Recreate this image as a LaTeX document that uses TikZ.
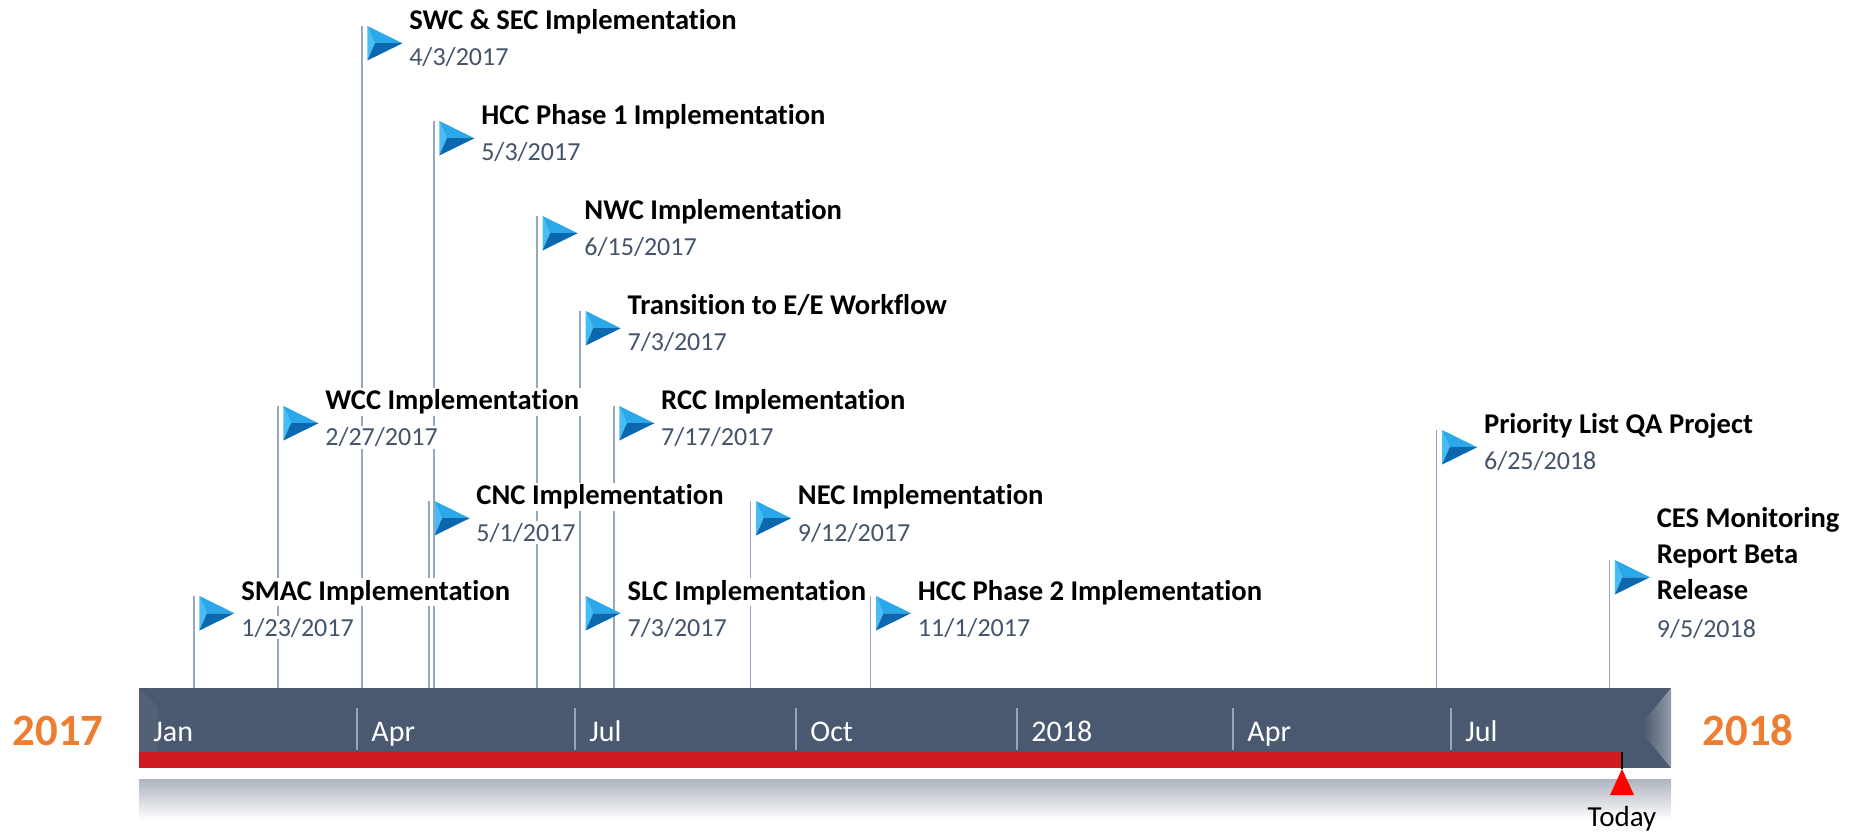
\documentclass[tikz,border=0pt]{standalone}
\usepackage{fontspec}
\setmainfont{Carlito}[Ligatures=NoCommon]
\pgfdeclarelayer{background}
\pgfsetlayers{background,main}
\definecolor{barslate}{HTML}{4A5970}
\definecolor{poleblue}{HTML}{94A8C4}
\definecolor{datecol}{HTML}{44546A}
\definecolor{yearorange}{HTML}{ED7D31}
\definecolor{bandred}{HTML}{D01A21}
\definecolor{flaglight}{HTML}{2BA8EA}
\definecolor{flagside}{HTML}{46BDF5}
\definecolor{flagdark}{HTML}{0B67AE}
\tikzstyle{pole} = [draw=poleblue, line width=0.8pt]
\tikzstyle{milestone} = [anchor=base west, fill=white, inner sep=1pt, font=\fontsize{14.3}{18}\selectfont\bfseries]
\tikzstyle{msdate} = [anchor=base west, fill=white, inner sep=1pt, text=datecol, font=\fontsize{13}{16}\selectfont]
\tikzstyle{monthlabel} = [anchor=base west, inner sep=0pt, text=white, font=\fontsize{15}{18}\selectfont]
\tikzstyle{monthsep} = [draw=barslate!55!white, line width=1pt]
\tikzstyle{yearlabel} = [anchor=base, inner sep=0pt, text=yearorange, font=\fontsize{22.4}{26}\selectfont\bfseries]

\begin{document}
\begin{tikzpicture}[x=0.5pt, y=-0.5pt]
	\useasboundingbox (0,0) rectangle (1851,833);

	% bar, red band and reflection
	\shade[top color=barslate!45!white, bottom color=white] (139,779) rectangle (1671,820);
	\fill[barslate] (139,688) rectangle (1671,768);
	\fill[barslate!95!white] (139,688) -- (158,707) -- (158,749) -- (139,768) -- cycle;
	\shade[left color=barslate, right color=barslate!60!white] (1671,688) -- (1643,722) -- (1643,734) -- (1671,768) -- cycle;
	\fill[bandred] (139,752) rectangle (1622,768);

	\node[yearlabel] (y2017) at (58,745) {2017};
	\node[yearlabel] (y2018) at (1748,745) {2018};

	\foreach \sx/\lbl [count=\j] in {139/Jan, 357/Apr, 575/Jul, 796/Oct, 1017/2018, 1233/Apr, 1451/Jul} {
		\ifnum\j>1 \draw[monthsep] (\sx,708) -- (\sx,750); \fi
		\node[monthlabel] (month\j) at (\sx+14,741) {\lbl};
	}

	% today marker
	\coordinate (bandend) at (1622,752);
	\coordinate (today) at (1622,769);
	\draw[black, line width=0.8pt] (bandend) -- (today);
	\fill[red] (today) -- (1610,795) -- (1634,795) -- cycle;
	\node[anchor=base, inner sep=0pt, font=\fontsize{14.5}{17}\selectfont] (todaylabel) at (1622,826) {Today};

	% milestones: day of the timeline / flag top / title / date
	\foreach \dnum/\lvl/\name/\when [count=\i] in {
		22/596/{SMAC Implementation}/{1/23/2017},
		57/406/{WCC Implementation}/{2/27/2017},
		92/26/{SWC \& SEC Implementation}/{4/3/2017},
		120/501/{CNC Implementation}/{5/1/2017},
		122/121/{HCC Phase 1 Implementation}/{5/3/2017},
		165/216/{NWC Implementation}/{6/15/2017},
		183/311/{Transition to E/E Workflow}/{7/3/2017},
		183/596/{SLC Implementation}/{7/3/2017},
		197/406/{RCC Implementation}/{7/17/2017},
		254/501/{NEC Implementation}/{9/12/2017},
		304/596/{HCC Phase 2 Implementation}/{11/1/2017},
		540/430/{Priority List QA Project}/{6/25/2018}} {
		\coordinate (base\i) at (141.2+2.399*\dnum, 688);
		\coordinate (top\i) at (141.2+2.399*\dnum, \lvl);
		\begin{pgfonlayer}{background}
			\draw[pole] (base\i) -- (top\i);
		\end{pgfonlayer}
		\begin{scope}[shift={(top\i)}]
			\fill[flagside] (5.5,0) -- (13,17.25) -- (5.5,34.5) -- cycle;
			\fill[flaglight] (5.5,0) -- (40.5,17.25) -- (13,17.25) -- cycle;
			\fill[flagdark] (5.5,34.5) -- (40.5,17.25) -- (13,17.25) -- cycle;
			\node[milestone] (name\i) at (45,4) {\name};
			\node[msdate] (date\i) at (45,40) {\when};
		\end{scope}
	}

	% the one with a title on three lines
	\coordinate (base13) at (141.2+2.399*612, 688);
	\coordinate (top13) at (141.2+2.399*612, 560);
	\begin{pgfonlayer}{background}
		\draw[pole] (base13) -- (top13);
	\end{pgfonlayer}
	\begin{scope}[shift={(top13)}]
		\fill[flagside] (5.5,0) -- (13,17.25) -- (5.5,34.5) -- cycle;
		\fill[flaglight] (5.5,0) -- (40.5,17.25) -- (13,17.25) -- cycle;
		\fill[flagdark] (5.5,34.5) -- (40.5,17.25) -- (13,17.25) -- cycle;
		\node[milestone, align=left, anchor=south west, inner sep=0pt] (name13) at (47,40) {CES Monitoring\\Report Beta\\Release};
		\node[msdate] (date13) at (45,77) {9/5/2018};
	\end{scope}
\end{tikzpicture}
\end{document}
